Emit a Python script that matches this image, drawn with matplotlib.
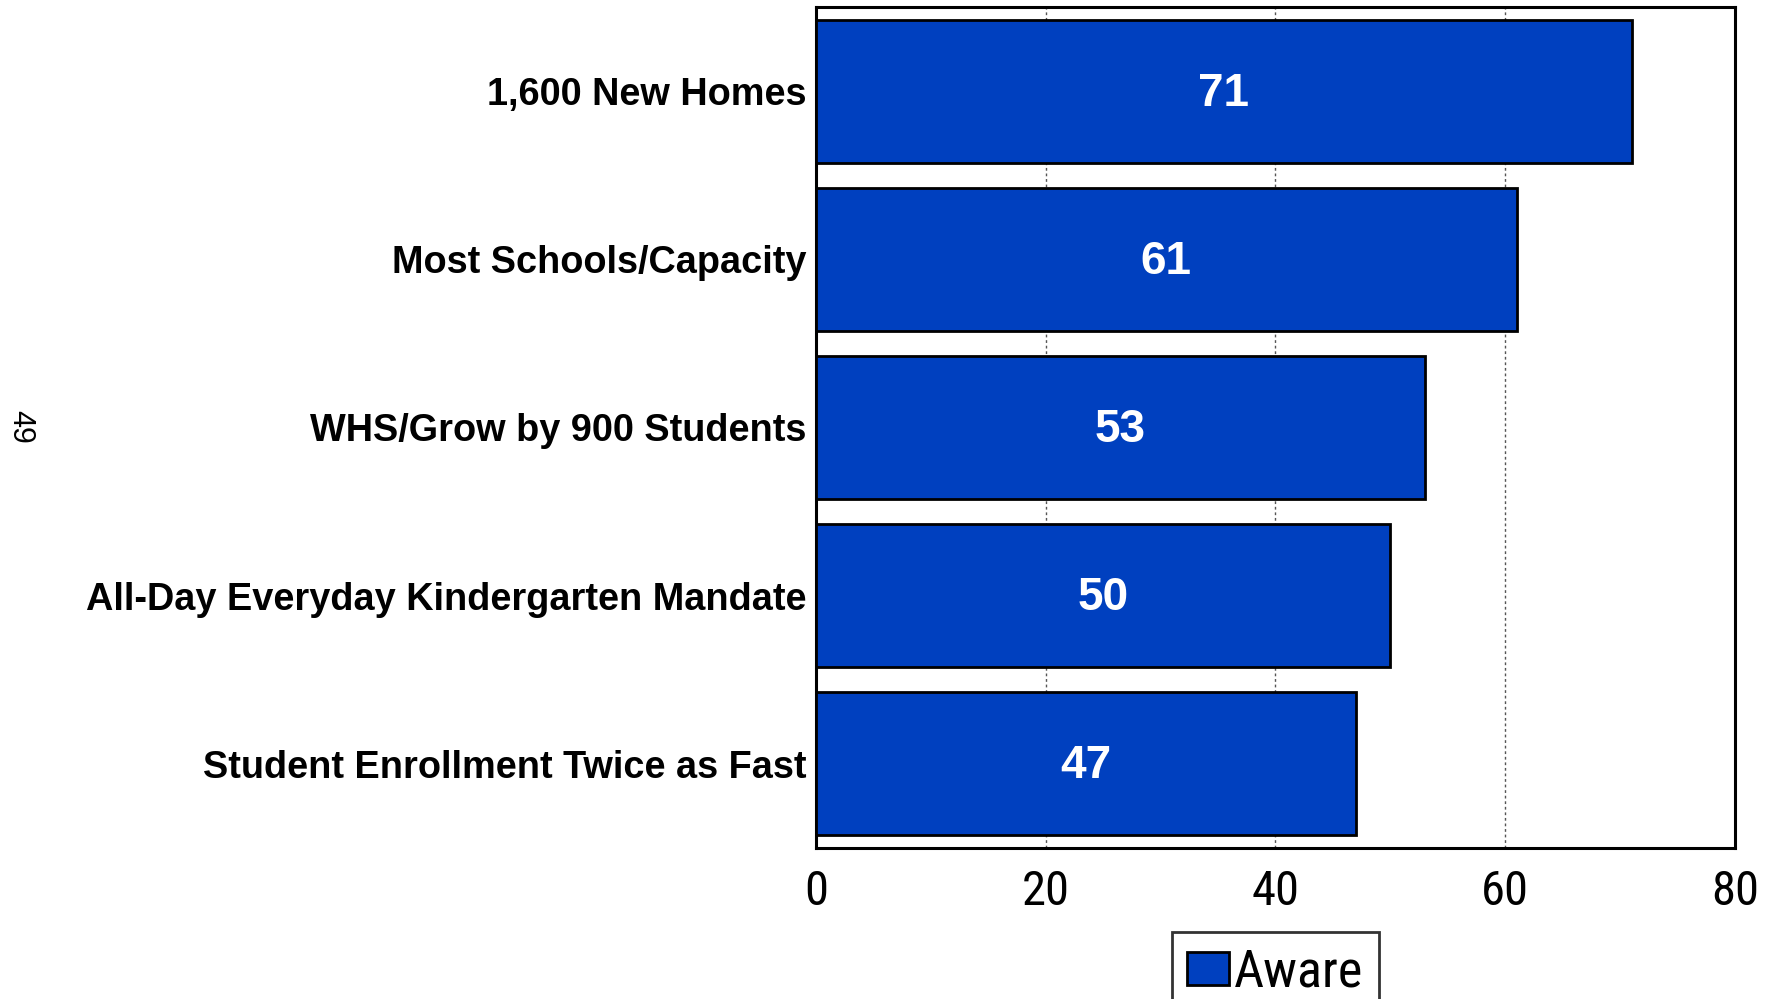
import matplotlib
matplotlib.use("Agg")
import matplotlib.pyplot as plt
from matplotlib import font_manager
from matplotlib.patches import Patch

categories = [
    "1,600 New Homes",
    "Most Schools/Capacity",
    "WHS/Grow by 900 Students",
    "All-Day Everyday Kindergarten Mandate",
    "Student Enrollment Twice as Fast",
]
aware = [71, 61, 53, 50, 47]
x_ticks = [0, 20, 40, 60, 80]
series_name = "Aware"
page_number = "49"

BAR_BLUE = "#0040BF"


def pick_font(names):
    for n in names:
        try:
            font_manager.findfont(font_manager.FontProperties(family=n),
                                  fallback_to_default=False)
            return n
        except Exception:
            continue
    return "DejaVu Sans"


def narrow_props(size):
    """Find a condensed sans face for the axis numbers and legend."""
    candidates = [
        dict(family="Liberation Sans Narrow"),
        dict(family="Arial Narrow"),
        dict(family="Roboto Condensed"),
        dict(family="Noto Sans", stretch="condensed"),
        dict(family="Open Sans", stretch="condensed"),
        dict(family="DejaVu Sans", stretch="condensed"),
    ]
    for c in candidates:
        fp = font_manager.FontProperties(size=size, **c)
        try:
            path = font_manager.findfont(fp, fallback_to_default=False)
        except Exception:
            continue
        low = path.lower()
        if "narrow" in low or "condensed" in low:
            return font_manager.FontProperties(fname=path, size=size)
    return font_manager.FontProperties(family=main_font, size=size)


main_font = pick_font(["Liberation Sans", "Arial", "DejaVu Sans"])

fig = plt.figure(figsize=(17.72, 9.99), dpi=100)
ax = fig.add_axes([0.4605, 0.1512, 0.5186, 0.8418])

ypos = list(range(len(categories)))
ax.barh(ypos, aware, height=0.85, color=BAR_BLUE, edgecolor="black",
        linewidth=2, zorder=3)

for y, v in zip(ypos, aware):
    ax.text(v / 2, y + 0.015, str(v), ha="center", va="center", color="white",
            fontsize=33, fontweight="bold", family=main_font, zorder=4)

ax.set_xlim(0, 80)
ax.set_ylim(len(categories) - 0.5, -0.5)
ax.set_xticks(x_ticks)
ax.set_xticklabels([str(t) for t in x_ticks], fontproperties=narrow_props(35))
ax.set_yticks(ypos)
ax.set_yticklabels(categories, family=main_font, fontsize=27.3, fontweight="bold")
ax.tick_params(axis="x", length=0, pad=15)
ax.tick_params(axis="y", length=0, pad=7)

ax.xaxis.grid(True, linestyle=(0, (2, 2)), color="#555555", linewidth=1, zorder=1)
ax.set_axisbelow(True)
for s in ax.spines.values():
    s.set_linewidth(2.2)
    s.set_color("black")

handle = Patch(facecolor=BAR_BLUE, edgecolor="black", linewidth=2)
leg = ax.legend([handle], [series_name], loc="upper center",
                bbox_to_anchor=(0.5, -0.1), frameon=True, fancybox=False,
                prop=narrow_props(37.5),
                handlelength=0.8, handleheight=0.6, handletextpad=0.1,
                borderpad=0.3, borderaxespad=0)
leg.get_frame().set_edgecolor("black")
leg.get_frame().set_linewidth(2)

fig.text(0.0115, 0.573, page_number, rotation=270, ha="center", va="center",
         fontsize=22, family=main_font)

fig.savefig("out.png", dpi=100)
